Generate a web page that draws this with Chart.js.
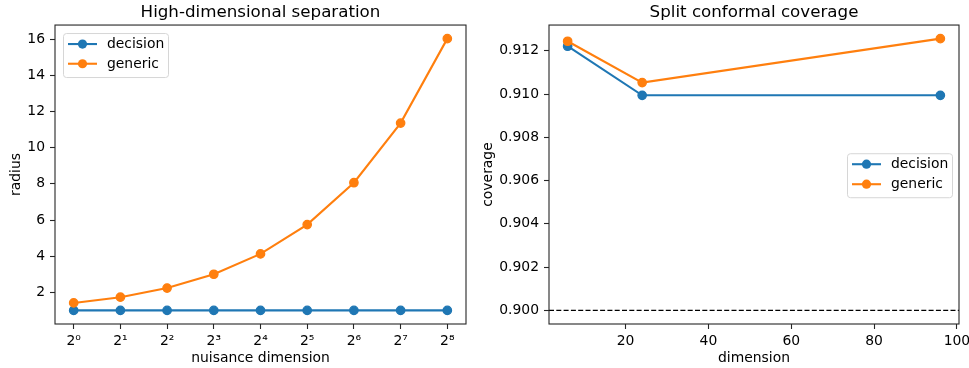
<!DOCTYPE html>
<html>
<head>
<meta charset="utf-8">
<script src="https://cdn.jsdelivr.net/npm/chart.js@4.4.1/dist/chart.umd.min.js"></script>
<style>
  html, body { margin: 0; padding: 0; background: #ffffff; }
  #wrap { position: relative; width: 969px; height: 368px; overflow: hidden; }
  .box { position: absolute; top: 0; height: 368px; }
  #leftBox { left: 0; width: 480px; }
  #rightBox { left: 480px; width: 489px; }
</style>
</head>
<body>
<div id="wrap">
  <div class="box" id="leftBox"><canvas id="leftChart"></canvas></div>
  <div class="box" id="rightBox"><canvas id="rightChart"></canvas></div>
</div>
<script>
// ---------- data ----------
const nuisanceDims   = [1, 2, 4, 8, 16, 32, 64, 128, 256];
const decisionRadius = [1, 1, 1, 1, 1, 1, 1, 1, 1];
const genericRadius  = [1.414, 1.732, 2.236, 3.0, 4.123, 5.745, 8.062, 11.358, 16.031];
const radiusTicks    = [2, 4, 6, 8, 10, 12, 14, 16];

const coverageDims      = [6, 24, 96];
const decisionCoverage  = [0.91221, 0.90994, 0.90994];
const genericCoverage   = [0.91244, 0.91053, 0.91256];
const nominalCoverage   = 0.9;
const coverageTicks     = [0.900, 0.902, 0.904, 0.906, 0.908, 0.910, 0.912];
const dimensionTicks    = [20, 40, 60, 80, 100];

const seriesLabels = ['decision', 'generic'];
const leftTitle  = 'High-dimensional separation';
const rightTitle = 'Split conformal coverage';

// ---------- styling ----------
const BLUE = '#1f77b4', ORANGE = '#ff7f0e';
const FONT = "'DejaVu Sans', 'Liberation Sans', sans-serif";
const TICK_PX = 13.9;
const sup = {'0':'\u2070','1':'\u00b9','2':'\u00b2','3':'\u00b3','4':'\u2074','5':'\u2075','6':'\u2076','7':'\u2077','8':'\u2078','9':'\u2079'};
const toSup = n => String(n).split('').map(c => sup[c] || c).join('');

// matplotlib-like 5% margins computed from the data
function linMargins(arrs) {
  const all = arrs.flat();
  const lo = Math.min(...all), hi = Math.max(...all), m = (hi - lo) * 0.05;
  return [lo - m, hi + m];
}
function logMargins(arr) {
  const lo = Math.log2(Math.min(...arr)), hi = Math.log2(Math.max(...arr)), m = (hi - lo) * 0.05;
  return [Math.pow(2, lo - m), Math.pow(2, hi + m)];
}

// frame + title centering + legend drawn matplotlib-style
const mplPlugin = {
  id: 'mplPlugin',
  afterLayout(chart) {
    if (chart.titleBlock) {
      chart.titleBlock.left = chart.chartArea.left;
      chart.titleBlock.right = chart.chartArea.right;
    }
  },
  afterDatasetsDraw(chart) {
    const {ctx, chartArea: a} = chart;
    ctx.save();
    ctx.strokeStyle = '#262626';
    ctx.lineWidth = 1.1;
    ctx.strokeRect(a.left, a.top, a.right - a.left, a.bottom - a.top);
    ctx.restore();
  },
  afterDraw(chart, args, opts) {
    if (!opts || !opts.legend) return;
    const L = opts.legend;
    const {ctx, chartArea: a} = chart;
    const items = chart.data.datasets.filter(d => !d.hideInLegend);
    const w = L.width, h = L.height;
    let x, y;
    if (L.corner === 'upperLeft') { x = a.left + L.dx; y = a.top + L.dy; }
    else { x = a.right - L.dx - w; y = (a.top + a.bottom) / 2 - h / 2 + L.dy; }
    ctx.save();
    ctx.beginPath();
    if (ctx.roundRect) ctx.roundRect(x + 0.5, y + 0.5, w, h, 3); else ctx.rect(x + 0.5, y + 0.5, w, h);
    ctx.fillStyle = 'rgba(255,255,255,0.8)';
    ctx.fill();
    ctx.strokeStyle = '#d6d6d6';
    ctx.lineWidth = 1;
    ctx.stroke();
    items.forEach((d, i) => {
      const cy = y + L.firstRow + i * L.rowGap;
      ctx.beginPath();
      ctx.strokeStyle = d.borderColor;
      ctx.lineWidth = d.borderWidth;
      ctx.moveTo(x + L.lineX0, cy);
      ctx.lineTo(x + L.lineX1, cy);
      ctx.stroke();
      ctx.beginPath();
      ctx.arc(x + (L.lineX0 + L.lineX1) / 2, cy, 4.6, 0, Math.PI * 2);
      ctx.fillStyle = d.borderColor;
      ctx.fill();
      ctx.fillStyle = '#000';
      ctx.font = TICK_PX + 'px ' + FONT;
      ctx.textBaseline = 'middle';
      ctx.textAlign = 'left';
      ctx.fillText(d.label, x + L.textX, cy + 0.5);
    });
    ctx.restore();
  }
};

function lineDs(label, color, xs, ys, order) {
  return {
    label, order,
    data: xs.map((x, i) => ({x, y: ys[i]})),
    borderColor: color, backgroundColor: color,
    borderWidth: 2.1,
    pointRadius: 4.2, pointBorderWidth: 1.3,
    pointBackgroundColor: color, pointBorderColor: color,
    pointHoverRadius: 4.2,
    tension: 0, clip: false
  };
}

function axisCommon(extra) {
  return Object.assign({
    grid: { display: true, drawOnChartArea: false, drawTicks: true, tickLength: 5, tickColor: '#262626', tickWidth: 1.1 },
    border: { display: false },
    ticks: { color: '#000', font: { family: FONT, size: TICK_PX }, padding: 4, autoSkip: false, maxRotation: 0 },
  }, extra);
}

Chart.defaults.animation = false;
Chart.defaults.font.family = FONT;

// ---------- left chart ----------
const [lxMin, lxMax] = logMargins(nuisanceDims);
const [lyMin, lyMax] = linMargins([decisionRadius, genericRadius]);

new Chart(document.getElementById('leftChart'), {
  type: 'line',
  data: {
    datasets: [
      lineDs(seriesLabels[0], BLUE, nuisanceDims, decisionRadius, 2),
      lineDs(seriesLabels[1], ORANGE, nuisanceDims, genericRadius, 1)
    ]
  },
  plugins: [mplPlugin],
  options: {
    responsive: true, maintainAspectRatio: false, animation: false,
    layout: { padding: { left: 0, right: 14, top: 0, bottom: 0 } },
    plugins: {
      legend: { display: false },
      tooltip: { enabled: false },
      title: { display: true, text: leftTitle, color: '#000', font: { family: FONT, size: 16.7, weight: 'normal', lineHeight: 1.2 }, padding: { top: 3, bottom: 2 } },
      mplPlugin: { legend: { corner: 'upperLeft', dx: 8, dy: 8, width: 105, height: 44, firstRow: 11, rowGap: 19.7, lineX0: 5, lineX1: 34, textX: 44 } }
    },
    scales: {
      x: axisCommon({
        type: 'logarithmic', min: lxMin, max: lxMax, bounds: 'data',
        afterBuildTicks: s => { s.ticks = nuisanceDims.map(v => ({ value: v })); },
        afterFit: s => { s.height = 44; s.paddingLeft = 0; s.paddingRight = 0; },
        ticks: { color: '#000', font: { family: FONT, size: TICK_PX }, padding: 4, autoSkip: false, maxRotation: 0,
                 callback: v => '2' + toSup(Math.round(Math.log2(v))) },
        title: { display: true, text: 'nuisance dimension', color: '#000', font: { family: FONT, size: TICK_PX, lineHeight: 1.2 }, padding: { top: 0, bottom: 1 } }
      }),
      y: axisCommon({
        type: 'linear', min: lyMin, max: lyMax, bounds: 'data',
        afterBuildTicks: s => { s.ticks = radiusTicks.map(v => ({ value: v })); },
        afterFit: s => { s.width = 55; s.paddingTop = 0; s.paddingBottom = 0; },
        ticks: { color: '#000', font: { family: FONT, size: TICK_PX }, padding: 5, callback: v => String(v) },
        title: { display: true, text: 'radius', color: '#000', font: { family: FONT, size: TICK_PX, lineHeight: 1.2 }, padding: { top: 8, bottom: 0 } }
      })
    }
  }
});

// ---------- right chart ----------
const [rxMin, rxMax] = linMargins([coverageDims]);
const [ryMin, ryMax] = linMargins([decisionCoverage, genericCoverage, [nominalCoverage]]);

const nominalDs = {
  label: 'nominal', hideInLegend: true, order: 3,
  data: [{ x: rxMin, y: nominalCoverage }, { x: rxMax, y: nominalCoverage }],
  borderColor: '#000', borderWidth: 1.3, borderDash: [5, 2.3],
  pointRadius: 0, pointHoverRadius: 0, tension: 0
};

new Chart(document.getElementById('rightChart'), {
  type: 'line',
  data: {
    datasets: [
      lineDs(seriesLabels[0], BLUE, coverageDims, decisionCoverage, 2),
      lineDs(seriesLabels[1], ORANGE, coverageDims, genericCoverage, 1),
      nominalDs
    ]
  },
  plugins: [mplPlugin],
  options: {
    responsive: true, maintainAspectRatio: false, animation: false,
    layout: { padding: { left: 0, right: 10, top: 0, bottom: 0 } },
    plugins: {
      legend: { display: false },
      tooltip: { enabled: false },
      title: { display: true, text: rightTitle, color: '#000', font: { family: FONT, size: 16.7, weight: 'normal', lineHeight: 1.2 }, padding: { top: 3, bottom: 2 } },
      mplPlugin: { legend: { corner: 'centerRight', dx: 7, dy: 0.7, width: 105, height: 44, firstRow: 11, rowGap: 20, lineX0: 5, lineX1: 34, textX: 44 } }
    },
    scales: {
      x: axisCommon({
        type: 'linear', min: rxMin, max: rxMax, bounds: 'data',
        afterBuildTicks: s => { s.ticks = dimensionTicks.map(v => ({ value: v })); },
        afterFit: s => { s.height = 44; s.paddingLeft = 0; s.paddingRight = 0; },
        ticks: { color: '#000', font: { family: FONT, size: TICK_PX }, padding: 4, autoSkip: false, maxRotation: 0, callback: v => String(v) },
        title: { display: true, text: 'dimension', color: '#000', font: { family: FONT, size: TICK_PX, lineHeight: 1.2 }, padding: { top: 0, bottom: 1 } }
      }),
      y: axisCommon({
        type: 'linear', min: ryMin, max: ryMax, bounds: 'data',
        afterBuildTicks: s => { s.ticks = coverageTicks.map(v => ({ value: v })); },
        afterFit: s => { s.width = 69; s.paddingTop = 0; s.paddingBottom = 0; },
        ticks: { color: '#000', font: { family: FONT, size: TICK_PX }, padding: 5, callback: v => Number(v).toFixed(3) },
        title: { display: true, text: 'coverage', color: '#000', font: { family: FONT, size: TICK_PX, lineHeight: 1.2 }, padding: { top: 0, bottom: 0 } }
      })
    }
  }
});
</script>
</body>
</html>
